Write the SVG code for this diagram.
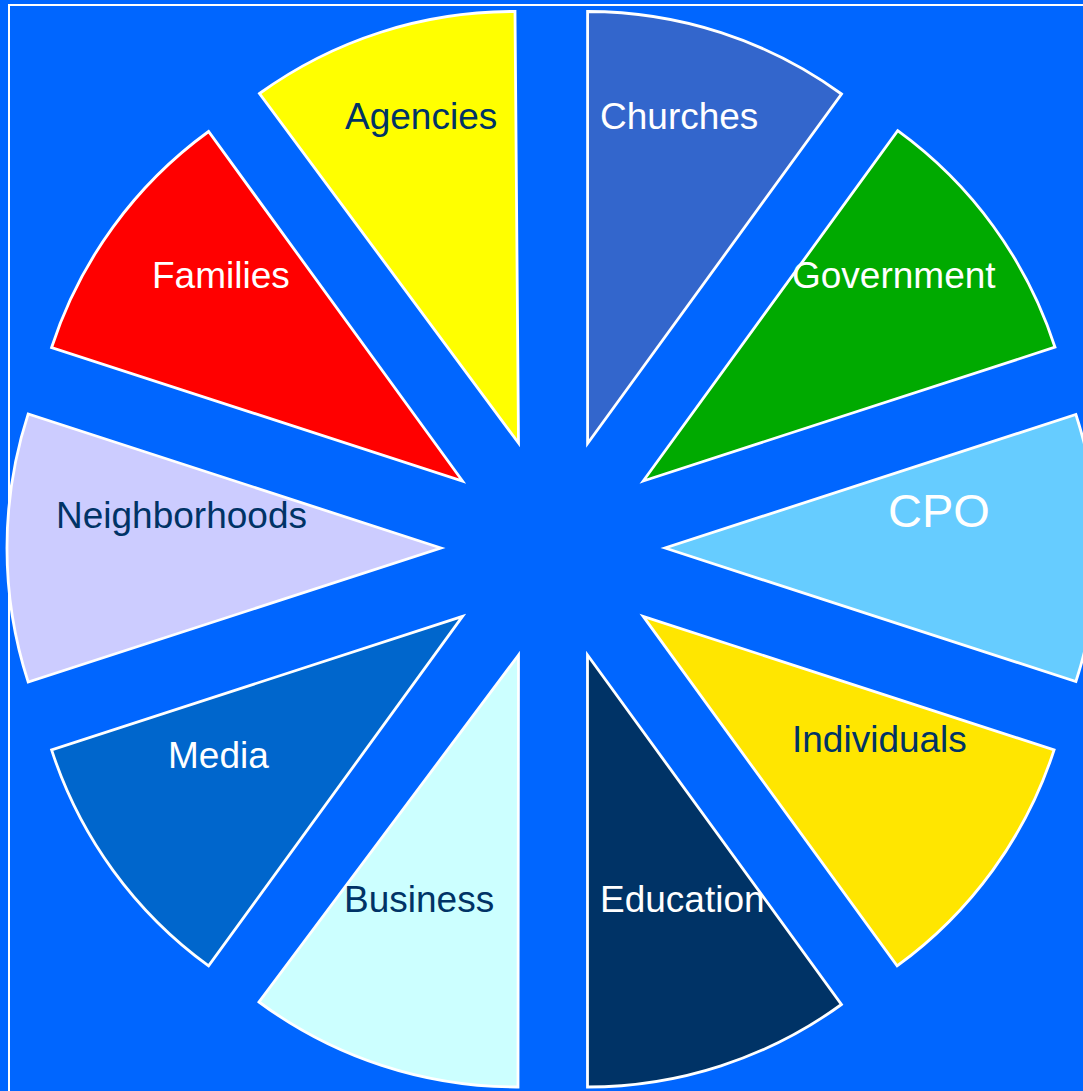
<svg xmlns="http://www.w3.org/2000/svg" width="1083" height="1091" viewBox="0 0 1083 1091">
<style>
.w{stroke:#FFFFFF;stroke-width:2.8;stroke-linejoin:miter}
.t{font-family:"Liberation Sans",Arial,sans-serif;font-size:37px}
.lt{fill:#FFFFFF}
.dk{fill:#003366}
</style>
<rect x="0" y="0" width="1083" height="1091" fill="#0066FF"/>
<rect x="9" y="5" width="1090" height="1100" fill="none" stroke="#FFFFFF" stroke-width="2"/>
<g id="connectors"></g>
<g id="cpo"><path class="w" fill="#66CCFF" d="M665,548 L1075.9,681.5 A432,432 0 0 0 1075.9,414.5 Z"/><text class="t lt" x="888" y="527" style="font-size:47px">CPO</text></g>
<g id="government"><path class="w" fill="#00AA00" d="M643.2,481 L1055,347.2 A433,433 0 0 0 897.7,130.7 Z"/><text class="t lt" x="792" y="288">Government</text></g>
<g id="churches"><path class="w" fill="#3366CC" d="M587.6,443.5 L841.5,94 A432,432 0 0 0 587.6,11.5 Z"/><text class="t lt" x="600" y="129">Churches</text></g>
<g id="agencies"><path class="w" fill="#FFFF00" d="M518.5,443 L515,11.5 A433,433 0 0 0 259.5,93.5 Z"/><text class="t dk" x="345" y="129">Agencies</text></g>
<g id="families"><path class="w" fill="#FF0000" d="M462.5,481 L208.6,131.5 A432,432 0 0 0 51.6,347.5 Z"/><text class="t lt" x="152" y="288">Families</text></g>
<g id="neighborhoods"><path class="w" fill="#CCCCFF" d="M441,548 L28.2,413.9 A434,434 0 0 0 28.2,682.1 Z"/><text class="t dk" x="56" y="528">Neighborhoods</text></g>
<g id="media"><path class="w" fill="#0066CC" d="M462.5,616.4 L51.6,749.9 A432,432 0 0 0 208.6,965.9 Z"/><text class="t lt" x="168" y="768">Media</text></g>
<g id="business"><path class="w" fill="#CCFFFF" d="M518.5,655 L259,1002 A433,433 0 0 0 518,1087 Z"/><text class="t dk" x="344" y="912">Business</text></g>
<g id="education"><path class="w" fill="#003366" d="M587.5,655 L587.5,1087 A432,432 0 0 0 841.4,1004.5 Z"/><text class="t lt" x="600" y="912">Education</text></g>
<g id="individuals"><path class="w" fill="#FFE600" d="M643.2,616.4 L897.1,965.9 A432,432 0 0 0 1054.1,749.9 Z"/><text class="t dk" x="792" y="752">Individuals</text></g>
</svg>
